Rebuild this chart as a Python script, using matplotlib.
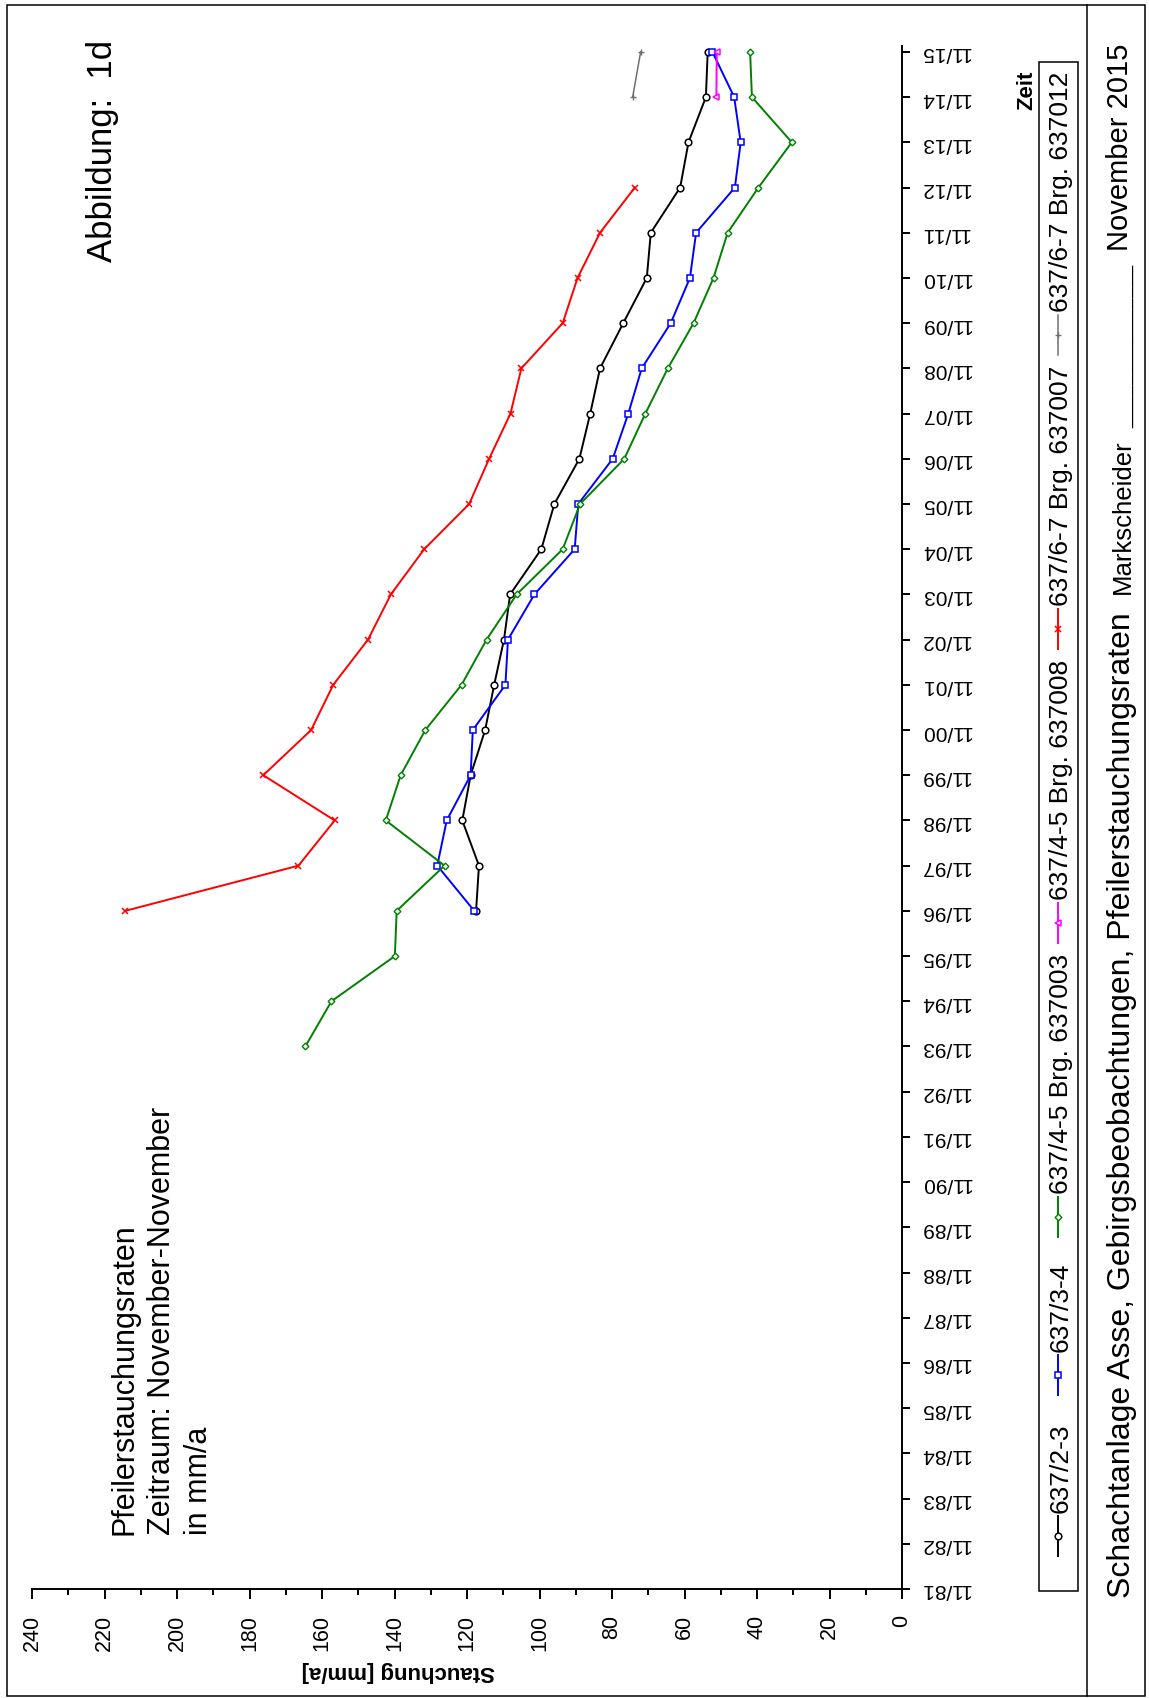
import matplotlib
matplotlib.use('Agg')
import matplotlib.pyplot as plt
from matplotlib.ticker import MultipleLocator
from matplotlib.lines import Line2D
from matplotlib.patches import Rectangle

plt.rcParams['font.family'] = ['Liberation Sans', 'DejaVu Sans']

# ---- data (Stauchung in mm/a) ----
years_axis = list(range(1981, 2016))
year_labels = ['11/%02d' % (y % 100) for y in years_axis]

years_23 = list(range(1996, 2016))
vals_23 = [117.5, 116.7, 121.3, 119.0, 115.0, 112.5, 109.8, 108.1, 99.5, 95.9,
           89.0, 86.0, 83.3, 76.9, 70.4, 69.3, 61.2, 58.9, 54.1, 53.6]

years_34 = list(range(1996, 2016))
vals_34 = [118.0, 128.2, 125.6, 119.0, 118.4, 109.4, 108.7, 101.4, 90.3, 89.3,
           79.8, 75.5, 71.8, 63.8, 58.5, 56.8, 46.1, 44.5, 46.3, 52.3]

years_45a = list(range(1993, 2016))
vals_45a = [164.6, 157.4, 139.9, 139.4, 126.2, 142.4, 138.3, 131.5, 121.5, 114.6,
            106.3, 93.6, 88.8, 76.6, 70.8, 64.6, 57.5, 52.0, 48.1, 39.6,
            30.4, 41.4, 41.9]

years_45b = [2014, 2015]
vals_45b = [51.2, 51.1]

years_67a = list(range(1996, 2013))
vals_67a = [214.3, 166.5, 156.5, 176.2, 163.0, 156.9, 147.3, 141.0, 131.8, 119.4,
            113.9, 108.0, 105.0, 93.6, 89.5, 83.3, 73.7]

years_67b = [2014, 2015]
vals_67b = [74.3, 72.1]

labels = ['637/2-3', '637/3-4', '637/4-5 Brg. 637003', '637/4-5 Brg. 637008',
          '637/6-7 Brg. 637007', '637/6-7 Brg. 637012']

# ---- styles ----
series = [
    (years_23, vals_23, dict(color='black', marker='o', mfc='white', ms=4.8, mew=1.1, lw=1.4)),
    (years_34, vals_34, dict(color='#0000ff', marker='s', mfc='white', ms=4.8, mew=1.1, lw=1.4)),
    (years_45a, vals_45a, dict(color='#008000', marker='D', mfc='white', ms=3.4, mew=1.0, lw=1.4)),
    (years_45b, vals_45b, dict(color='#ff00ff', marker='<', mfc='white', ms=4.8, mew=1.1, lw=1.4)),
    (years_67a, vals_67a, dict(color='#ff0000', marker='x', ms=4.6, mew=1.1, lw=1.4)),
    (years_67b, vals_67b, dict(color='#707070', marker='+', ms=4.6, mew=1.0, lw=1.1)),
]

W, H = 1149, 1699
fig = plt.figure(figsize=(W / 100, H / 100), dpi=100)


def fx(px):
    return px / W


def fy(py):
    return 1 - py / H


ax = fig.add_axes([fx(32), fy(1590), fx(902) - fx(32), fy(47) - fy(1590)])
for ys, vs, st in series:
    ax.plot(vs, ys, **st)

ax.set_xlim(240, 0)
ax.set_ylim(1981, 2015.13)
for s in ['top', 'left']:
    ax.spines[s].set_visible(False)
for s in ['bottom', 'right']:
    ax.spines[s].set_linewidth(1.4)

ax.yaxis.tick_right()
ax.set_yticks(years_axis)
ax.set_yticklabels(year_labels)
ax.tick_params(axis='y', direction='out', length=6, width=1.4, pad=7,
               labelsize=15, labelrotation=180)
for t in ax.get_yticklabels():
    t.set_va('center')

ax.xaxis.set_major_locator(MultipleLocator(20))
ax.xaxis.set_minor_locator(MultipleLocator(10))
ax.tick_params(axis='x', which='major', direction='out', length=7, width=1.4,
               pad=11, labelsize=15.5, labelrotation=90)
ax.tick_params(axis='x', which='minor', direction='out', length=4, width=1.4)

# axis titles
fig.text(fx(398), fy(1672), 'Stauchung [mm/a]', rotation=180, fontsize=16,
         fontweight='bold', ha='center', va='center')
fig.text(fx(1032), fy(110), 'Zeit', rotation=90, rotation_mode='anchor',
         fontsize=16, fontweight='bold', ha='left', va='baseline')

# annotations in plot area
fig.text(fx(112), fy(262), 'Abbildung:  1d', rotation=90, rotation_mode='anchor',
         fontsize=25, ha='left', va='baseline')
for bx, line in zip([133, 170, 207],
                    ['Pfeilerstauchungsraten', 'Zeitraum: November-November', 'in mm/a']):
    fig.text(fx(bx), fy(1535), line, rotation=90, rotation_mode='anchor',
             fontsize=22, ha='left', va='baseline')

# legend drawn by hand (rotated page)
fig.add_artist(Rectangle((fx(1039), fy(1592)), fx(1078) - fx(1039), fy(63) - fy(1592),
                         transform=fig.transFigure, fill=False, ec='black', lw=1.1))
leg_marker_y = [1537, 1376, 1218, 924, 630, 336]
for (ys, vs, st), lab, my in zip(series, labels, leg_marker_y):
    fig.add_artist(Line2D([fx(1058), fx(1058)], [fy(my + 20), fy(my - 20)],
                          transform=fig.transFigure, color=st['color'], lw=st['lw']))
    mk = {k: v for k, v in st.items() if k != 'lw'}
    fig.add_artist(Line2D([fx(1058)], [fy(my)], transform=fig.transFigure, lw=0, **mk))
    fig.text(fx(1068), fy(my - 24), lab, rotation=90, rotation_mode='anchor',
             fontsize=19, ha='left', va='baseline')

# page frame and footer
fig.add_artist(Rectangle((fx(7), fy(1697)), fx(1145) - fx(7), fy(6) - fy(1697),
                         transform=fig.transFigure, fill=False, ec='black', lw=1.1))
fig.add_artist(Line2D([fx(1087), fx(1087)], [fy(1697), fy(6)],
                      transform=fig.transFigure, color='black', lw=1.1))
fig.text(fx(1130), fy(1598), 'Schachtanlage Asse, Gebirgsbeobachtungen, Pfeilerstauchungsraten',
         rotation=90, rotation_mode='anchor', fontsize=23, ha='left', va='baseline')
fig.text(fx(1130), fy(594), 'Markscheider', rotation=90, rotation_mode='anchor',
         fontsize=18.5, ha='left', va='baseline')
fig.text(fx(1130), fy(428), '_' * 15, rotation=90, rotation_mode='anchor',
         fontsize=14, ha='left', va='baseline')
fig.text(fx(1128), fy(251), 'November 2015', rotation=90, rotation_mode='anchor',
         fontsize=21, ha='left', va='baseline')

fig.savefig('out.png', dpi=100)
